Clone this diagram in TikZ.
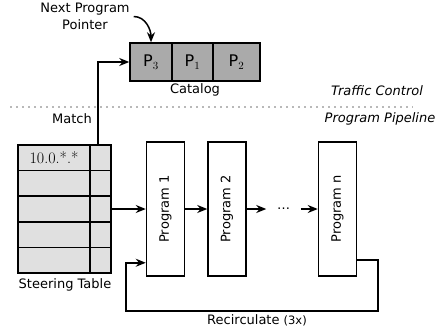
\documentclass[tikz,border=0pt]{standalone}
\usepackage{fontspec}
\setsansfont{DejaVu Sans}
\usetikzlibrary{arrows.meta}

\definecolor{catalogfill}{RGB}{170,170,170}
\definecolor{tablefill}{RGB}{224,224,224}
\definecolor{sepgray}{RGB}{185,185,185}

\tikzset{
  catcell/.style={draw, fill=catalogfill, minimum height=38pt, inner sep=0pt,
    font=\sffamily\fontsize{16}{18}\selectfont},
  rowcell/.style={draw, fill=tablefill, minimum height=25.6pt, inner sep=0pt},
  program/.style={draw, fill=white, minimum width=38pt, minimum height=134pt, inner sep=0pt},
}

\begin{document}
\begin{tikzpicture}[x=1pt, y=1pt, line width=1.5pt,
    font=\sffamily\fontsize{13}{15}\selectfont,
    >={Stealth[length=10pt,width=8pt]}]
    \useasboundingbox (0,0) rectangle (441,333);

    % Catalog
    \node (p3) at (151,271) [catcell, minimum width=42pt] {P$_3$};
    \node (p1) at (192.5,271) [catcell, minimum width=41pt] {P$_1$};
    \node (p2) at (236.5,271) [catcell, minimum width=47pt] {P$_2$};
    \node (catalog) at (195,243) {Catalog};
    \node (pointer) at (85,316.5) [align=center, font=\sffamily\fontsize{13}{17}\selectfont] {Next Program\\Pointer};
    \draw[->] (pointer.east) to[out=0, in=90] (p3.north);

    % Separator
    \draw[sepgray, line width=1.5pt, dash pattern=on 1.5pt off 4.5pt] (10,226) -- (413,226);
    \node (traffic) at (377,242) {\itshape Traffic Control};
    \node (pipeline) at (380,214) {\itshape Program Pipeline};

    % Steering table
    \foreach \i/\y in {1/175.2, 2/149.6, 3/124, 4/98.4, 5/72.8} {
        \node (ra\i) at (54,\y) [rowcell, minimum width=72pt] {};
        \node (rb\i) at (100.5,\y) [rowcell, minimum width=21pt] {};
    }
    \node (prefix) at (ra1) {\rmfamily\fontsize{16}{18}\selectfont 10.0.*.*};
    \node (steering) at (65,48) {Steering Table};
    \node (match) at (72,214) {Match};
    \draw[->] ([xshift=-2.5pt]rb1.north) |- (p3.west);

    % Programs
    \node (prog1) at (165.5,124) [program] {\rotatebox{90}{Program 1}};
    \node (prog2) at (227,124) [program] {\rotatebox{90}{Program 2}};
    \node (dots) at (283.5,124) [minimum width=33pt, inner sep=0pt] {\dots};
    \node (progn) at (337.5,124) [program] {\rotatebox{90}{Program n}};
    \draw[->] (rb3.east) -- (prog1.west);
    \draw[->] (prog1.east) -- (prog2.west);
    \draw[->] (prog2.east) -- (dots.west);
    \draw[->] (dots.east) -- (progn.west);

    % Recirculation
    \coordinate (loopR) at (378,22);
    \coordinate (loopL) at (126,22);
    \draw[->] ([yshift=17pt]progn.south east) -| (loopR) -- (loopL) |- ([yshift=14pt]prog1.south west);
    \node (recirc) at (257,13) {Recirculate {\fontsize{11.5}{13}\selectfont (3x)}};
\end{tikzpicture}
\end{document}
